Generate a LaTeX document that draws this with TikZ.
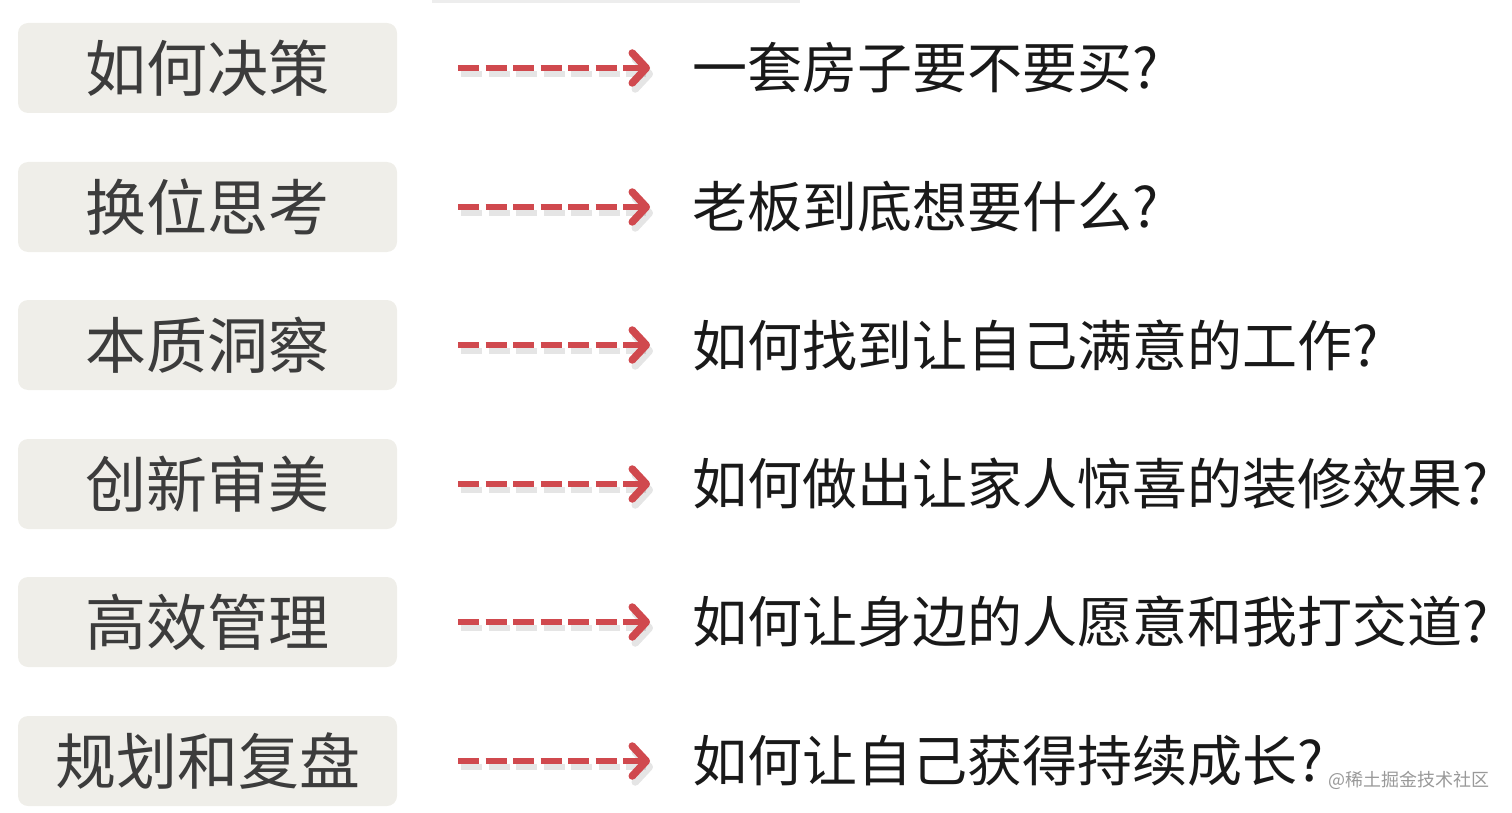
\documentclass[tikz,border=0pt]{standalone}
\usepackage{fontspec}
\setmainfont{Noto Sans CJK SC}
\usepackage{xcolor}
\usetikzlibrary{arrows.meta}
\definecolor{boxfill}{HTML}{EFEEE9}
\definecolor{boxtext}{HTML}{3C3C3C}
\definecolor{arrred}{HTML}{D0494E}
\begin{document}
\begin{tikzpicture}[x=1pt,y=-1pt,
topic/.style={fill=boxfill,rounded corners=10pt,minimum width=379pt,minimum height=90pt,inner sep=0pt,text=boxtext,font=\fontsize{61}{61}\selectfont},
question/.style={anchor=west,inner sep=0pt,text=black!90,font=\fontsize{55}{55}\selectfont},
link/.style={draw=arrred,line width=6pt,dash pattern=on 21pt off 6.5pt,shorten <=61pt,shorten >=42pt,-{Straight Barb[length=14pt,width=30pt,line width=7.5pt,round]}},
linkshadow/.style={link,draw=black,opacity=0.1,transform canvas={shift={(3pt,-6pt)}}}]
\useasboundingbox(0,0)rectangle(1512,813);
\path[fill=black!7](432,0)rectangle(800,3);
% rows
\node[topic](t1)at(207.5,68){如何决策};
\node[topic](t2)at(207.5,207){换位思考};
\node[topic](t3)at(207.5,345){本质洞察};
\node[topic](t4)at(207.5,484){创新审美};
\node[topic](t5)at(207.5,622){高效管理};
\node[topic](t6)at(207.5,761){规划和复盘};
\node[question](q1)at(692,68){一套房子要不要买?};
\node[question](q2)at(692,207){老板到底想要什么?};
\node[question](q3)at(692,345){如何找到让自己满意的工作?};
\node[question](q4)at(692,484){如何做出让家人惊喜的装修效果?};
\node[question](q5)at(692,622){如何让身边的人愿意和我打交道?};
\node[question](q6)at(692,761){如何让自己获得持续成长?};
% arrows
\foreach \i in {1,...,6}{
\draw[linkshadow](t\i.east)--(q\i.west);
\draw[link](t\i.east)--(q\i.west);
}
\node[anchor=east,inner sep=0pt,text=black!40,font=\fontsize{18}{18}\selectfont](mark)at(1490,780){@稀土掘金技术社区};
\end{tikzpicture}
\end{document}
